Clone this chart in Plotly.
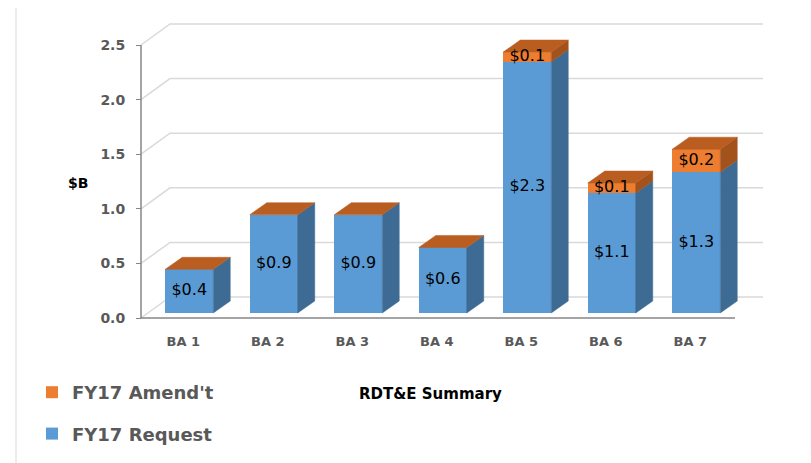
import plotly.graph_objects as go

# ---------------- data ----------------
categories = ["BA 1", "BA 2", "BA 3", "BA 4", "BA 5", "BA 6", "BA 7"]
request = [0.40, 0.90, 0.90, 0.60, 2.30, 1.10, 1.29]
amend = [0.00, 0.00, 0.00, 0.00, 0.09, 0.09, 0.21]
request_labels = ["$0.4", "$0.9", "$0.9", "$0.6", "$2.3", "$1.1", "$1.3"]
amend_labels = ["", "", "", "", "$0.1", "$0.1", "$0.2"]
y_tickvals = [0.0, 0.5, 1.0, 1.5, 2.0, 2.5]
y_ticktext = ["0.0", "0.5", "1.0", "1.5", "2.0", "2.5"]

# ---------------- geometry / style ----------------
PAGE = 8                      # default body margin of the html page
W, H = 811 - PAGE, 463 - PAGE
ML, MT = 137 - PAGE, 20 - PAGE
PLOT_R, PLOT_B = 770 - PAGE, 321 - PAGE
MR, MB = W - PLOT_R, H - PLOT_B
PW, PH = W - ML - MR, H - MT - MB
PXX = 84.5     # px per category
PXY = 109.2    # px per value unit
X0 = -0.5 - 4 / PXX
Y0 = -3 / PXY
XR = [X0, X0 + PW / PXX]
YR = [Y0, Y0 + PH / PXY]

BARW = 48 / PXX
OFFX, OFFY = 6 / PXX, 5 / PXY          # bar position inside depth
DXB, DYB = 17 / PXX, 12 / PXY          # bar depth
DXW, DYW = 29 / PXX, 21 / PXY          # wall depth
XEND_BACK = -0.5 + (763 - 141) / PXX
XEND_FRONT = -0.5 + (735 - 141) / PXX

BLUE, BLUE_SIDE = "#5B9BD5", "#3E6B94"
ORG, ORG_SIDE, ORG_TOP = "#ED7D31", "#A4521C", "#B95D21"
GRID = "#D9D9D9"
AXIS = "#868686"
TXT = "#595959"
FONT = "DejaVu Sans"


def px2paper_x(px):
    return (px - PAGE - ML) / PW


def px2paper_y(py):
    return (PLOT_B - (py - PAGE)) / PH


fig = go.Figure()

# front faces
xs = [i + OFFX for i in range(len(categories))]
fig.add_trace(go.Bar(x=xs, y=request, base=[OFFY] * len(request), width=BARW,
                     marker=dict(color=BLUE, line=dict(width=0)), name="FY17 Request",
                     legendgroup="req", legendrank=2, hoverinfo="skip"))
fig.add_trace(go.Bar(x=xs, y=amend, base=[OFFY + r for r in request], width=BARW,
                     marker=dict(color=ORG, line=dict(width=0)), name="FY17 Amend't",
                     legendgroup="amd", legendrank=1, hoverinfo="skip"))


def side_poly(xc, b, t):
    xr = xc + BARW / 2
    return [xr, xr + DXB, xr + DXB, xr, xr, None], [b, b + DYB, t + DYB, t, b, None]


def top_poly(xc, t):
    xl, xr = xc - BARW / 2, xc + BARW / 2
    return [xl, xl + DXB, xr + DXB, xr, xl, None], [t, t + DYB, t + DYB, t, t, None]


bsx, bsy, osx, osy, otx, oty = [], [], [], [], [], []
for xc, r, a in zip(xs, request, amend):
    px_, py_ = side_poly(xc, OFFY, OFFY + r)
    bsx += px_; bsy += py_
    if a > 0:
        px_, py_ = side_poly(xc, OFFY + r, OFFY + r + a)
        osx += px_; osy += py_
    px_, py_ = top_poly(xc, OFFY + r + a)
    otx += px_; oty += py_

for X, Y, c in [(bsx, bsy, BLUE_SIDE), (osx, osy, ORG_SIDE), (otx, oty, ORG_TOP)]:
    fig.add_trace(go.Scatter(x=X, y=Y, mode="lines", fill="toself", fillcolor=c,
                             line=dict(color=c, width=0.5), hoverinfo="skip", showlegend=False))

# data labels
fig.add_trace(go.Scatter(x=xs, y=[OFFY + r / 2 for r in request], mode="text",
                         text=request_labels, textfont=dict(family=FONT, size=16, color="#000000"),
                         hoverinfo="skip", showlegend=False))
fig.add_trace(go.Scatter(x=xs, y=[OFFY + r + a / 2 for r, a in zip(request, amend)], mode="text",
                         text=amend_labels, textfont=dict(family=FONT, size=16, color="#000000"),
                         hoverinfo="skip", showlegend=False))

# back-wall gridlines (3D style) + front axis lines, drawn below the bars
shapes = []
for v in y_tickvals:
    shapes.append(dict(type="path", xref="x", yref="y", layer="below",
                       path=f"M {-0.5},{v} L {-0.5 + DXW},{v + DYW} L {XEND_BACK},{v + DYW}",
                       line=dict(color=GRID, width=1.5)))
shapes.append(dict(type="line", xref="x", yref="y", layer="below", x0=-0.5, x1=-0.5,
                   y0=0, y1=y_tickvals[-1], line=dict(color=AXIS, width=1.5)))
shapes.append(dict(type="line", xref="x", yref="y", layer="below", x0=-0.5, x1=XEND_FRONT,
                   y0=0, y1=0, line=dict(color=AXIS, width=1.5)))
shapes.append(dict(type="rect", xref="paper", yref="paper",
                   x0=px2paper_x(16), x1=px2paper_x(809), y0=px2paper_y(475), y1=px2paper_y(2),
                   line=dict(color=GRID, width=1), fillcolor="rgba(0,0,0,0)", layer="below"))

fig.update_layout(
    width=W, height=H,
    margin=dict(l=ML, r=MR, t=MT, b=MB, autoexpand=False),
    paper_bgcolor="white", plot_bgcolor="white",
    barmode="overlay", bargap=0,
    showlegend=True,
    legend=dict(x=px2paper_x(32), y=px2paper_y(374), xanchor="left", yanchor="top",
                font=dict(family=FONT, size=18, color=TXT, weight="bold"),
                tracegroupgap=15, bgcolor="rgba(0,0,0,0)", itemclick=False),
    xaxis=dict(range=XR, domain=[0, 1], tickmode="array", tickvals=list(range(len(categories))),
               ticktext=categories, showgrid=False, zeroline=False, showline=False,
               ticks="outside", ticklen=8, tickcolor="rgba(0,0,0,0)",
               tickfont=dict(family=FONT, size=13, color=TXT, weight="bold"), fixedrange=True),
    yaxis=dict(range=YR, anchor="free", position=px2paper_x(141), tickmode="array",
               tickvals=y_tickvals, ticktext=y_ticktext, showgrid=False, zeroline=False,
               showline=False, ticks="outside", ticklen=5, tickcolor=AXIS, tickwidth=1,
               ticklabelstandoff=8,
               tickfont=dict(family=FONT, size=14, color=TXT, weight="bold"), fixedrange=True),
    shapes=shapes,
    annotations=[
        dict(text="$B", xref="paper", yref="paper", x=px2paper_x(78), y=px2paper_y(183),
             xanchor="center", yanchor="middle", showarrow=False,
             font=dict(family=FONT, size=14, color="#000000", weight="bold")),
        dict(text="RDT&E Summary", xref="paper", yref="paper", x=px2paper_x(430),
             y=px2paper_y(394), xanchor="center", yanchor="middle", showarrow=False,
             font=dict(family=FONT, size=15, color="#000000", weight="bold")),
    ],
)

fig.write_html("out.html")
